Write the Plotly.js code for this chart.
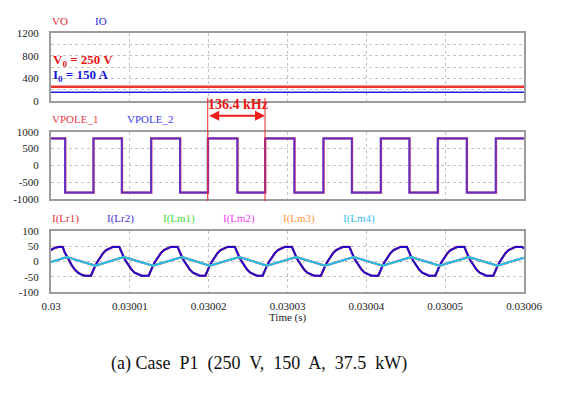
<!DOCTYPE html>
<html>
<head>
<meta charset="utf-8">
<script src="https://cdn.plot.ly/plotly-3.0.1.min.js"></script>
<style>html,body{margin:0;padding:0;background:#fff;}#chart{width:561px;height:396px;}</style>
</head>
<body>
<div id="chart"></div>
<script>
// ---------- data (time in microseconds after t = 0.03 s) ----------
const xTickVals = [0.03, 0.03001, 0.03002, 0.03003, 0.03004, 0.03005, 0.03006];
const xTickText = ['0.03', '0.03001', '0.03002', '0.03003', '0.03004', '0.03005', '0.03006'];

// top panel: output voltage / current
const outTimeUs = [0, 60];
const voValues = [250, 250];
const ioValues = [150, 150];

// middle panel: pole voltages (step waveform, value holds until next time)
const vpole1TimeUs = [0, 1.82, 5.41, 9.01, 12.73, 16.40, 19.92, 23.67, 27.19, 30.90, 34.58, 38.19, 41.86, 45.49, 49.09, 52.77, 56.45, 60];
const vpole1Values = [800, -800, 800, -800, 800, -800, 800, -800, 800, -800, 800, -800, 800, -800, 800, -800, 800, 800];
const vpole2TimeUs = [0, 1.78, 5.37, 8.97, 12.69, 16.36, 19.88, 23.63, 27.15, 30.86, 34.54, 38.15, 41.82, 45.45, 49.05, 52.73, 56.41, 60];
const vpole2Values = [800, -800, 800, -800, 800, -800, 800, -800, 800, -800, 800, -800, 800, -800, 800, -800, 800, 800];

// bottom panel: resonant currents I(Lr1)/I(Lr2)
const lrTimeUs = [
  0, 0.5, 0.95,
  1.48, 1.73, 2.03, 2.28, 2.63, 3.03, 3.43, 3.83, 4.28,
  5.07, 5.32, 5.62, 5.87, 6.22, 6.62, 7.02, 7.42, 7.87,
  8.67, 8.92, 9.22, 9.47, 9.82, 10.22, 10.62, 11.02, 11.47,
  12.39, 12.64, 12.94, 13.19, 13.54, 13.94, 14.34, 14.74, 15.19,
  16.06, 16.31, 16.61, 16.86, 17.21, 17.61, 18.01, 18.41, 18.86,
  19.58, 19.83, 20.13, 20.38, 20.73, 21.13, 21.53, 21.93, 22.38,
  23.33, 23.58, 23.88, 24.13, 24.48, 24.88, 25.28, 25.68, 26.13,
  26.85, 27.10, 27.40, 27.65, 28.00, 28.40, 28.80, 29.20, 29.65,
  30.56, 30.81, 31.11, 31.36, 31.71, 32.11, 32.51, 32.91, 33.36,
  34.24, 34.49, 34.79, 35.04, 35.39, 35.79, 36.19, 36.59, 37.04,
  37.85, 38.10, 38.40, 38.65, 39.00, 39.40, 39.80, 40.20, 40.65,
  41.52, 41.77, 42.07, 42.32, 42.67, 43.07, 43.47, 43.87, 44.32,
  45.15, 45.40, 45.70, 45.95, 46.30, 46.70, 47.10, 47.50, 47.95,
  48.75, 49.00, 49.30, 49.55, 49.90, 50.30, 50.70, 51.10, 51.55,
  52.43, 52.68, 52.98, 53.23, 53.58, 53.98, 54.38, 54.78, 55.23,
  56.11, 56.36, 56.66, 56.91, 57.26, 57.66, 58.06, 58.46, 58.91,
  59.75, 60
];
const lrValues = [
  37, 44, 47,
  47, 30, 14, 2, -13, -27, -37, -43, -47,
  -47, -30, -14, -2, 13, 27, 37, 43, 47,
  47, 30, 14, 2, -13, -27, -37, -43, -47,
  -47, -30, -14, -2, 13, 27, 37, 43, 47,
  47, 30, 14, 2, -13, -27, -37, -43, -47,
  -47, -30, -14, -2, 13, 27, 37, 43, 47,
  47, 30, 14, 2, -13, -27, -37, -43, -47,
  -47, -30, -14, -2, 13, 27, 37, 43, 47,
  47, 30, 14, 2, -13, -27, -37, -43, -47,
  -47, -30, -14, -2, 13, 27, 37, 43, 47,
  47, 30, 14, 2, -13, -27, -37, -43, -47,
  -47, -30, -14, -2, 13, 27, 37, 43, 47,
  47, 30, 14, 2, -13, -27, -37, -43, -47,
  -47, -30, -14, -2, 13, 27, 37, 43, 47,
  47, 30, 14, 2, -13, -27, -37, -43, -47,
  -47, -30, -14, -2, 13, 27, 37, 43, 47,
  47, 42
];

// magnetizing currents I(Lm1..Lm4) (triangle)
const lmTimeUs = [0, 2.03, 5.62, 9.22, 12.94, 16.61, 20.13, 23.88, 27.40, 31.11, 34.79, 38.40, 42.07, 45.70, 49.30, 52.98, 56.66, 60];
const lmValues = [-2, 14, -14, 14, -14, 14, -14, 14, -14, 14, -14, 14, -14, 14, -14, 14, -14, 12];

// frequency marker: the two pole-voltage rising edges
const markerEdgeUs = [19.88, 27.15];
const markerLabel = '136.4 kHz';

// ---------- build ----------
const t = us => us.map(v => 0.03 + v * 1e-6);
const W = 561, H = 396;
const px = x => x / W;
const py = y => 1 - y / H;
const FONT = 'Liberation Serif, Times New Roman, serif';

const traces = [
  {x: t(outTimeUs), y: voValues, xaxis: 'x', yaxis: 'y', mode: 'lines', line: {color: 'rgb(240,50,50)', width: 2.5}},
  {x: t(outTimeUs), y: ioValues, xaxis: 'x', yaxis: 'y', mode: 'lines', line: {color: 'rgb(30,30,230)', width: 1.6}},
  {x: t(vpole1TimeUs), y: vpole1Values, xaxis: 'x2', yaxis: 'y2', mode: 'lines', line: {color: 'rgb(235,60,90)', width: 2.2, shape: 'hv'}},
  {x: t(vpole2TimeUs), y: vpole2Values, xaxis: 'x2', yaxis: 'y2', mode: 'lines', opacity: 0.75, line: {color: 'rgb(50,40,230)', width: 2, shape: 'hv'}},
  {x: t(lrTimeUs), y: lrValues, xaxis: 'x3', yaxis: 'y3', mode: 'lines', line: {color: 'rgb(230,40,60)', width: 2.2}},
  {x: t(lrTimeUs), y: lrValues, xaxis: 'x3', yaxis: 'y3', mode: 'lines', line: {color: 'rgb(30,10,200)', width: 2}},
  {x: t(lmTimeUs), y: lmValues, xaxis: 'x3', yaxis: 'y3', mode: 'lines', line: {color: 'rgb(40,220,40)', width: 2}},
  {x: t(lmTimeUs), y: lmValues, xaxis: 'x3', yaxis: 'y3', mode: 'lines', line: {color: 'rgb(250,50,250)', width: 2}},
  {x: t(lmTimeUs), y: lmValues, xaxis: 'x3', yaxis: 'y3', mode: 'lines', line: {color: 'rgb(255,150,50)', width: 2}},
  {x: t(lmTimeUs), y: lmValues, xaxis: 'x3', yaxis: 'y3', mode: 'lines', line: {color: 'rgb(30,190,240)', width: 2}}
];

const xDomain = [px(51), px(524)];
const gridStyle = {showgrid: true, gridcolor: '#c4c4c4', griddash: 'dot', gridwidth: 1, zeroline: false,
  showline: true, mirror: true, linecolor: '#9c9c9c', linewidth: 2, ticks: '', fixedrange: true};
const xBase = Object.assign({}, gridStyle, {domain: xDomain, range: [0.03, 0.03006], tickmode: 'array',
  tickvals: xTickVals, ticktext: xTickText, tickfont: {family: FONT, size: 11, color: '#222'}});
const yFont = {family: FONT, size: 11, color: '#222'};

const layout = {
  width: W, height: H,
  margin: {l: 0, r: 0, t: 0, b: 0},
  paper_bgcolor: '#fff', plot_bgcolor: '#fff',
  showlegend: false,
  font: {family: FONT},
  xaxis: Object.assign({}, xBase, {anchor: 'y', showticklabels: false}),
  xaxis2: Object.assign({}, xBase, {anchor: 'y2', showticklabels: false}),
  xaxis3: Object.assign({}, xBase, {anchor: 'y3', showticklabels: true, ticklabelstandoff: 3}),
  yaxis: Object.assign({}, gridStyle, {domain: [py(100.7), py(33.3)], range: [0, 1200], anchor: 'x',
    tickmode: 'linear', tick0: 0, dtick: 400,
    minor: {dtick: 200, tick0: 0, showgrid: true, gridcolor: '#c4c4c4', griddash: 'dot', gridwidth: 1, ticks: ''},
    tickfont: yFont, ticklabelstandoff: 8}),
  yaxis2: Object.assign({}, gridStyle, {domain: [py(199.3), py(131.7)], range: [-1000, 1000], anchor: 'x2',
    tickmode: 'array', tickvals: [-1000, -500, 0, 500, 1000], ticktext: ['-1000', '-500', '0', '500', '1000'],
    tickfont: yFont, ticklabelstandoff: 8}),
  yaxis3: Object.assign({}, gridStyle, {domain: [py(292), py(230.7)], range: [-100, 100], anchor: 'x3',
    tickmode: 'array', tickvals: [-100, -50, 0, 50, 100], ticktext: ['-100', '-50', '0', '50', '100'],
    tickfont: yFont, ticklabelstandoff: 8}),
  shapes: markerEdgeUs.map(us => ({type: 'line', xref: 'x2', yref: 'paper',
    x0: 0.03 + us * 1e-6, x1: 0.03 + us * 1e-6, y0: py(98), y1: py(201),
    line: {color: 'rgb(240,40,40)', width: 1}})),
  annotations: []
};

function label(text, x, y, color, size, extra) {
  layout.annotations.push(Object.assign({text: text, xref: 'paper', yref: 'paper', x: px(x), y: py(y),
    xanchor: 'left', yanchor: 'middle', showarrow: false,
    font: {family: FONT, size: size, color: color}}, extra || {}));
}
// legends
label('VO', 50, 21, 'rgb(235,40,40)', 11);
label('IO', 93, 21, 'rgb(40,40,230)', 11);
label('VPOLE_1', 50, 119.5, 'rgb(240,60,70)', 11);
label('VPOLE_2', 125, 119.5, 'rgb(60,60,235)', 11);
label('I(Lr1)', 50, 218.5, 'rgb(235,50,60)', 11);
label('I(Lr2)', 105, 218.5, 'rgb(70,50,210)', 11);
label('I(Lm1)', 161, 218.5, 'rgb(60,220,60)', 11);
label('I(Lm2)', 221, 218.5, 'rgb(240,60,240)', 11);
label('I(Lm3)', 281, 218.5, 'rgb(255,150,60)', 11);
label('I(Lm4)', 341, 218.5, 'rgb(60,190,245)', 11);
// value labels
label('<b>V<sub>0</sub> = 250 V</b>', 51, 61, 'rgb(235,20,20)', 13);
label('<b>I<sub>0</sub> = 150 A</b>', 51, 75.5, 'rgb(20,20,220)', 13);
// frequency label
label('<b>' + markerLabel + '</b>', 206, 104, 'rgb(235,20,20)', 14);
// axis title and caption
label('Time (s)', 287.5, 317.5, '#222', 11, {xanchor: 'center'});
label('(a) Case&nbsp; P1&nbsp; (250&nbsp; V,&nbsp; 150&nbsp; A,&nbsp; 37.5&nbsp; kW)', 258.5, 363, '#111', 18, {xanchor: 'center'});
// double-headed arrow between the two edges
layout.annotations.push({xref: 'x2', yref: 'paper', axref: 'x2', ayref: 'paper',
  x: 0.03 + markerEdgeUs[1] * 1e-6, y: py(115.7), ax: 0.03 + markerEdgeUs[0] * 1e-6, ay: py(115.7),
  text: '', showarrow: true, arrowside: 'end+start', arrowhead: 2, arrowsize: 1, arrowwidth: 2,
  arrowcolor: 'rgb(240,30,30)', standoff: 0, startstandoff: 0});

Plotly.newPlot('chart', traces, layout, {staticPlot: true, displayModeBar: false});
</script>
</body>
</html>
